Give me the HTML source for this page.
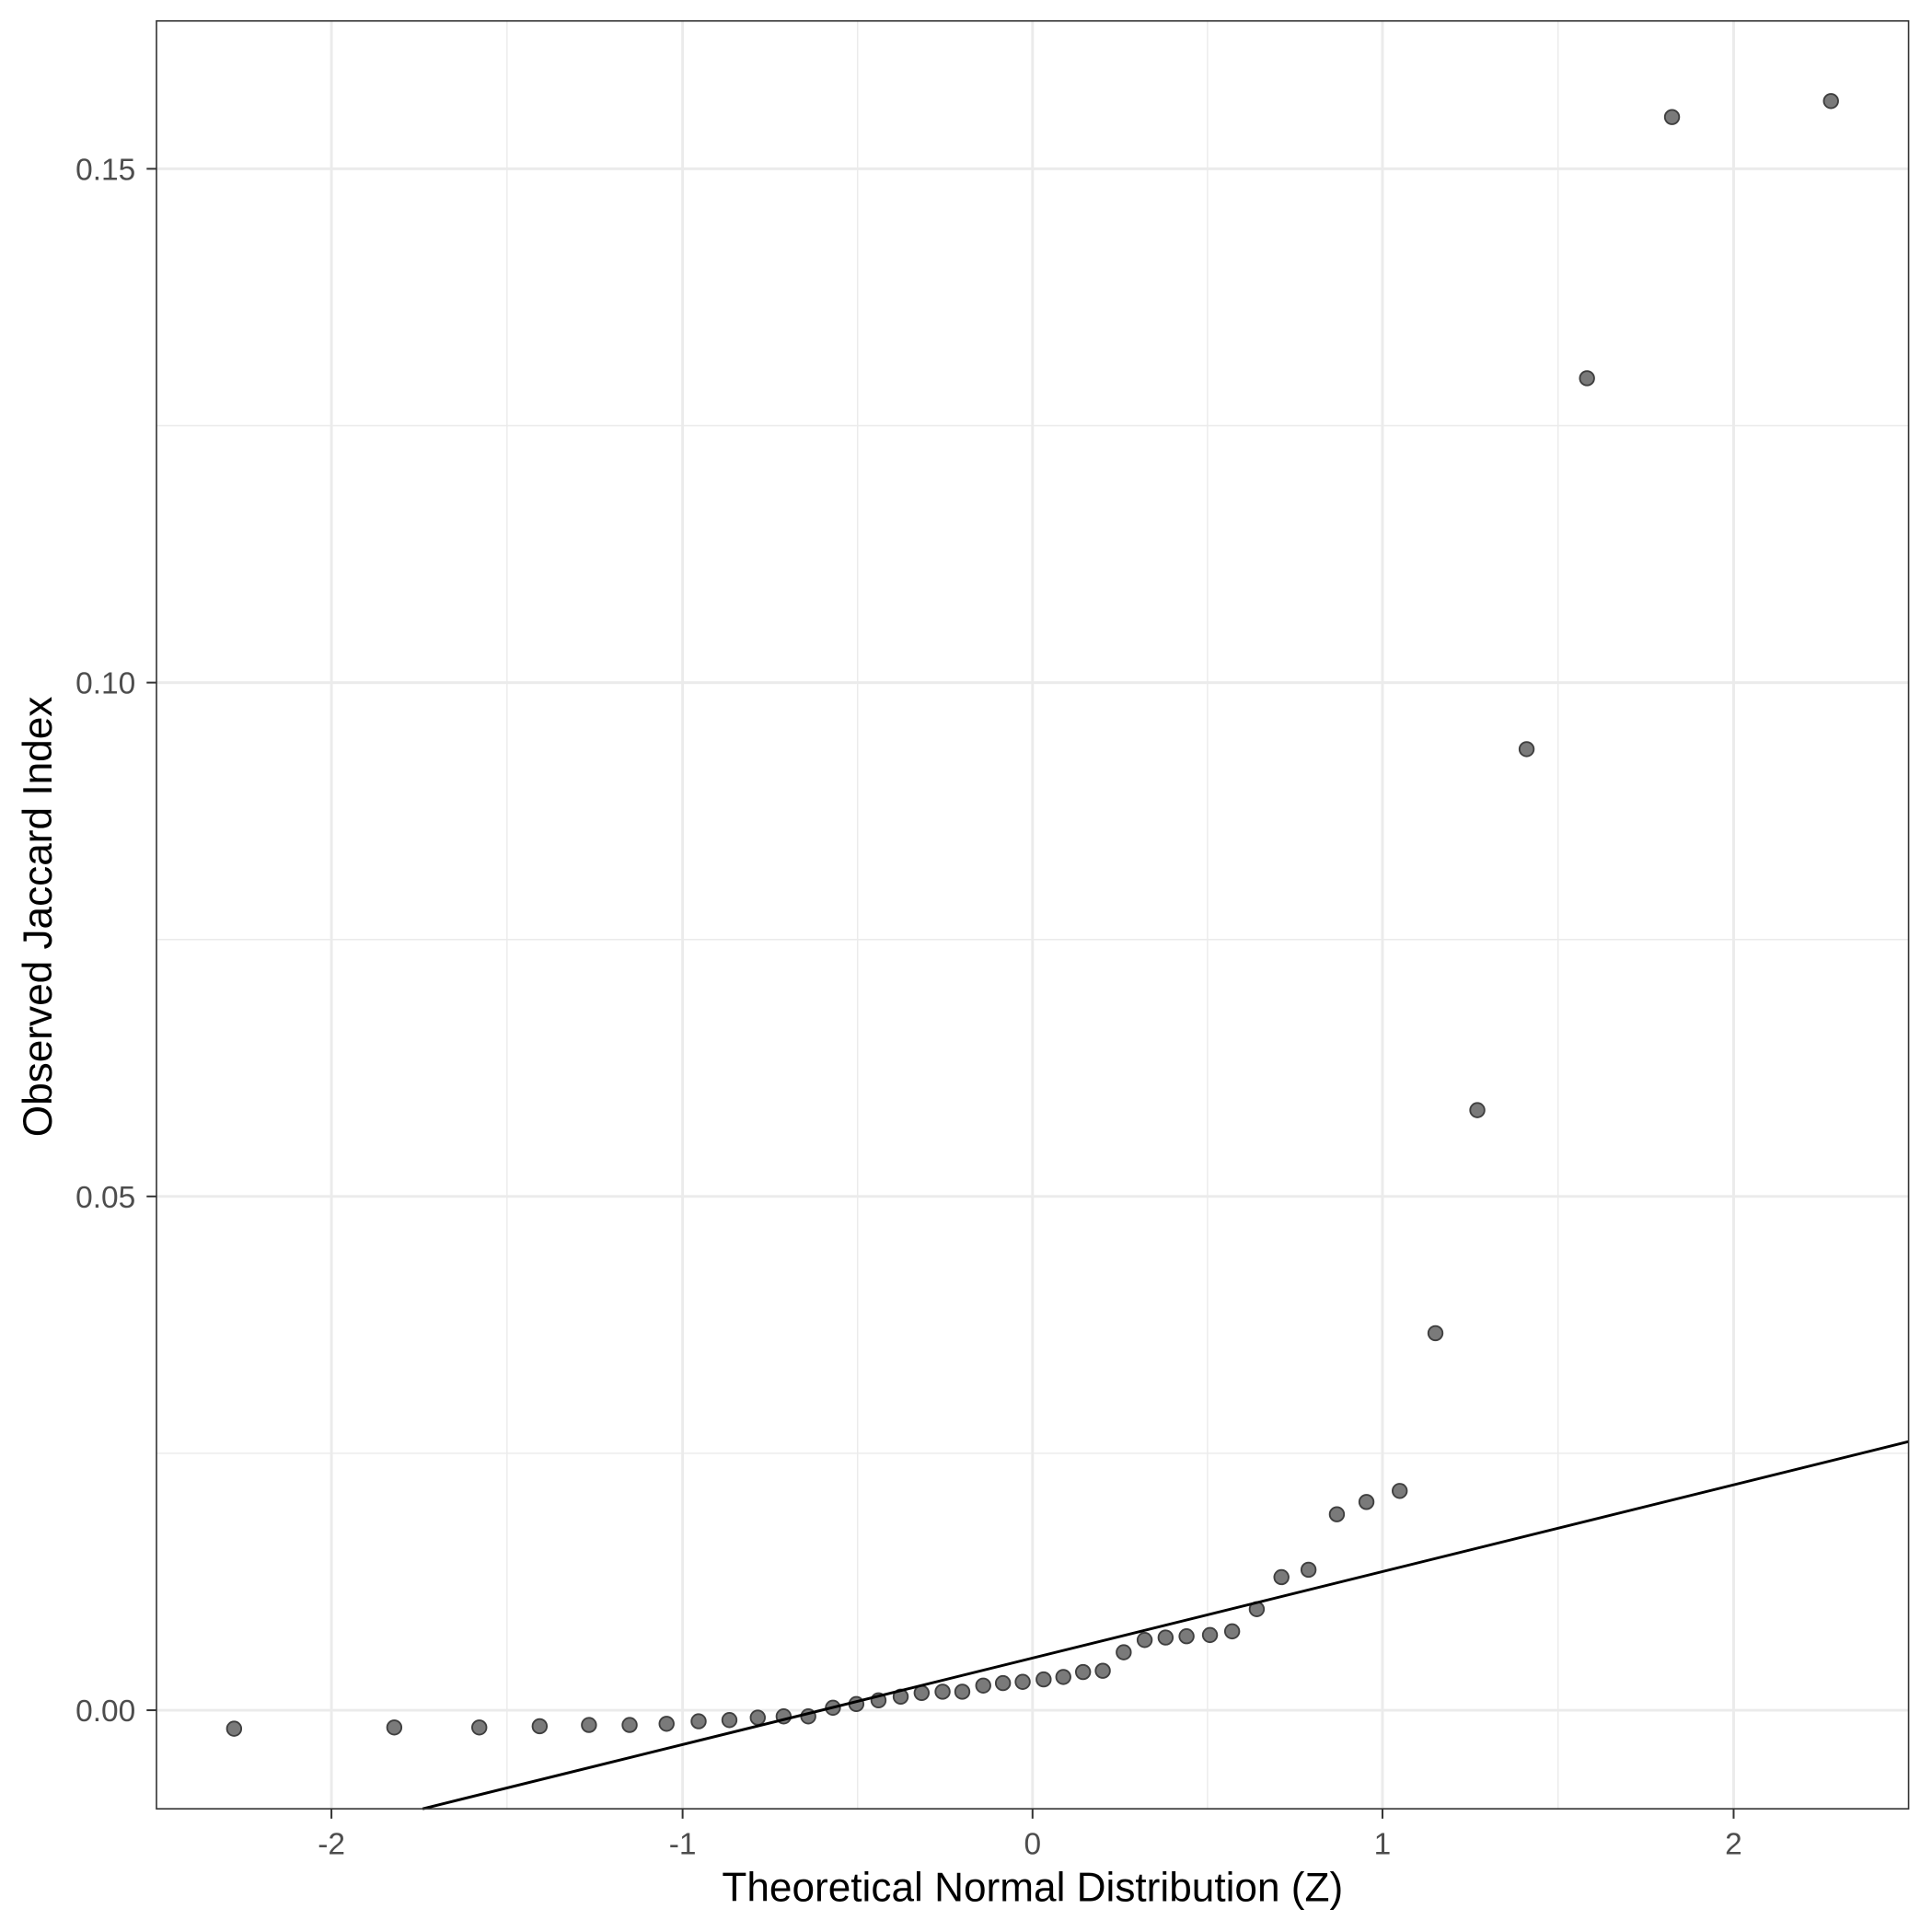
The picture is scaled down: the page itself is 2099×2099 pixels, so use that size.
<!DOCTYPE html>
<html><head><meta charset="utf-8"><style>html,body{margin:0;padding:0;background:#fff}svg{display:block}</style></head><body>
<svg width="2099" height="2099" viewBox="0 0 1568 1568" xmlns="http://www.w3.org/2000/svg" font-family="Liberation Sans, sans-serif">
<rect width="1568" height="1568" fill="#fff"/>
<g stroke="#ebebeb" stroke-width="1.1">
<line x1="127" x2="1549" y1="1179.5" y2="1179.5"/><line x1="127" x2="1549" y1="762.5" y2="762.5"/><line x1="127" x2="1549" y1="345.5" y2="345.5"/>
<line y1="17" y2="1468" x1="411.5" x2="411.5"/><line y1="17" y2="1468" x1="696" x2="696"/><line y1="17" y2="1468" x1="980" x2="980"/><line y1="17" y2="1468" x1="1264.5" x2="1264.5"/>
</g>
<g stroke="#ebebeb" stroke-width="2.2">
<line x1="127" x2="1549" y1="1388" y2="1388"/><line x1="127" x2="1549" y1="971" y2="971"/><line x1="127" x2="1549" y1="554" y2="554"/><line x1="127" x2="1549" y1="137" y2="137"/>
<line y1="17" y2="1468" x1="269" x2="269"/><line y1="17" y2="1468" x1="554" x2="554"/><line y1="17" y2="1468" x1="838" x2="838"/><line y1="17" y2="1468" x1="1122" x2="1122"/><line y1="17" y2="1468" x1="1407" x2="1407"/>
</g>
<g fill="#7a7a7a" stroke="#3f3f3f" stroke-width="1.4">
<circle cx="190" cy="1403" r="5.8"/><circle cx="320" cy="1402" r="5.8"/><circle cx="389" cy="1402" r="5.8"/><circle cx="438" cy="1401" r="5.8"/><circle cx="478" cy="1400" r="5.8"/><circle cx="511" cy="1400" r="5.8"/><circle cx="541" cy="1399" r="5.8"/><circle cx="567" cy="1397" r="5.8"/><circle cx="592" cy="1396" r="5.8"/><circle cx="615" cy="1394" r="5.8"/><circle cx="636" cy="1393" r="5.8"/><circle cx="656" cy="1393" r="5.8"/><circle cx="676" cy="1386" r="5.8"/><circle cx="695" cy="1383" r="5.8"/><circle cx="713" cy="1380" r="5.8"/><circle cx="731" cy="1377" r="5.8"/><circle cx="748" cy="1374" r="5.8"/><circle cx="765" cy="1373" r="5.8"/><circle cx="781" cy="1373" r="5.8"/><circle cx="798" cy="1368" r="5.8"/><circle cx="814" cy="1366" r="5.8"/><circle cx="830" cy="1365" r="5.8"/><circle cx="847" cy="1363" r="5.8"/><circle cx="863" cy="1361" r="5.8"/><circle cx="879" cy="1357" r="5.8"/><circle cx="895" cy="1356" r="5.8"/><circle cx="912" cy="1341" r="5.8"/><circle cx="929" cy="1331" r="5.8"/><circle cx="946" cy="1329" r="5.8"/><circle cx="963" cy="1328" r="5.8"/><circle cx="982" cy="1327" r="5.8"/><circle cx="1000" cy="1324" r="5.8"/><circle cx="1020" cy="1306" r="5.8"/><circle cx="1040" cy="1280" r="5.8"/><circle cx="1062" cy="1274" r="5.8"/><circle cx="1085" cy="1229" r="5.8"/><circle cx="1109" cy="1219" r="5.8"/><circle cx="1136" cy="1210" r="5.8"/><circle cx="1165" cy="1082" r="5.8"/><circle cx="1199" cy="901" r="5.8"/><circle cx="1239" cy="608" r="5.8"/><circle cx="1288" cy="307" r="5.8"/><circle cx="1357" cy="95" r="5.8"/><circle cx="1486" cy="82" r="5.8"/>
</g>
<line x1="343" y1="1468" x2="1549" y2="1170" stroke="#000" stroke-width="2.2"/>
<rect x="127" y="17" width="1422" height="1451" fill="none" stroke="#333" stroke-width="1.2"/>
<g stroke="#333" stroke-width="1.5">
<line x1="119" x2="127" y1="1388" y2="1388"/><line x1="119" x2="127" y1="971" y2="971"/><line x1="119" x2="127" y1="554" y2="554"/><line x1="119" x2="127" y1="137" y2="137"/>
<line y1="1468" y2="1476" x1="269" x2="269"/><line y1="1468" y2="1476" x1="554" x2="554"/><line y1="1468" y2="1476" x1="838" x2="838"/><line y1="1468" y2="1476" x1="1122" x2="1122"/><line y1="1468" y2="1476" x1="1407" x2="1407"/>
</g>
<g fill="#4d4d4d" font-size="25" text-anchor="end">
<text x="110" y="1397">0.00</text><text x="110" y="980">0.05</text><text x="110" y="563">0.10</text><text x="110" y="146">0.15</text>
</g>
<g fill="#4d4d4d" font-size="25" text-anchor="middle">
<text x="269" y="1505">-2</text><text x="554" y="1505">-1</text><text x="838" y="1505">0</text><text x="1122" y="1505">1</text><text x="1407" y="1505">2</text>
</g>
<text x="838" y="1543" font-size="33" text-anchor="middle" fill="#000">Theoretical Normal Distribution (Z)</text>
<text transform="translate(42,744) rotate(-90)" font-size="33" text-anchor="middle" fill="#000">Observed Jaccard Index</text>
</svg>
</body></html>
